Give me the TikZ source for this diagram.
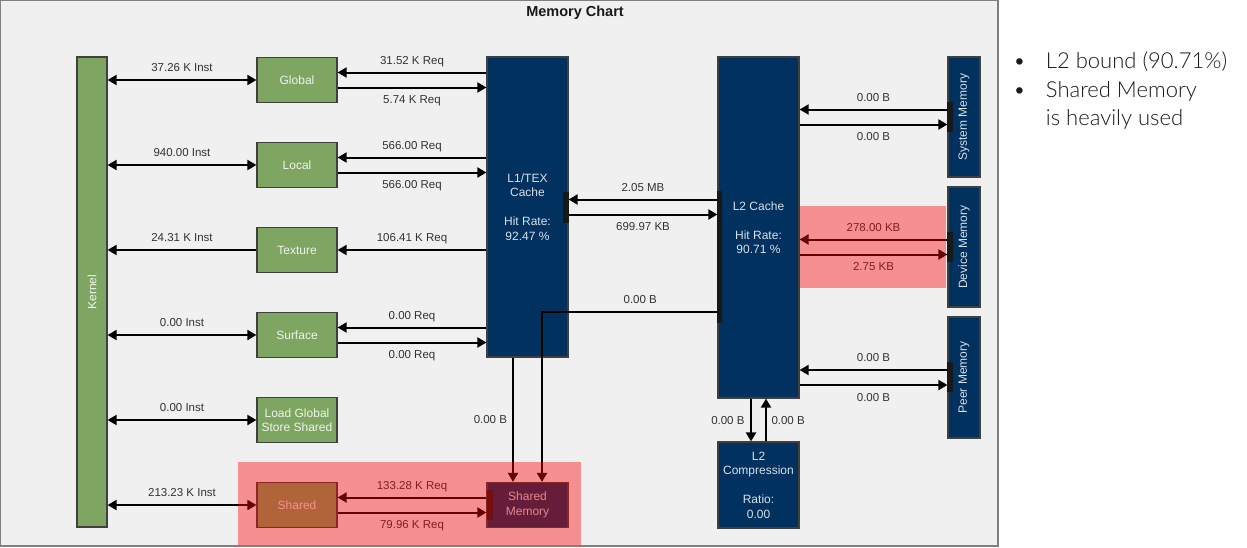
\documentclass[tikz,border=0pt]{standalone}
\usepackage{fontspec}
\setmainfont{Liberation Sans}
\newfontfamily\notefont{Lato}[UprightFont=* Light]
\usetikzlibrary{arrows.meta}
\definecolor{panelgray}{HTML}{F0F0F0}
\definecolor{unitgreen}{HTML}{7EA562}
\definecolor{cacheblue}{HTML}{00315F}
\definecolor{labelgray}{HTML}{333333}

\begin{document}
\begin{tikzpicture}[x=1pt,y=-1pt,
	unit/.style={draw=black!75,line width=1.2pt,inner sep=0pt,align=center,font=\fontsize{12}{14.5}\selectfont},
	green unit/.style={unit,fill=unitgreen,text=white!88!unitgreen,minimum width=80,minimum height=45},
	blue unit/.style={unit,fill=cacheblue,text=white!85!cacheblue},
	flow/.style={line width=2pt,-{Triangle[length=9pt,width=10pt]}},
	duplex/.style={line width=2pt,{Triangle[length=9pt,width=10pt]}-{Triangle[length=9pt,width=10pt]}},
	val/.style={text=labelgray,font=\fontsize{11.5}{13}\selectfont,inner sep=0pt,text height=8.2pt,text depth=0pt},
	valup/.style={val,midway,yshift=12.5pt},
	valdn/.style={val,midway,yshift=-12pt},
	port/.style={fill=black!90},
	hilite/.style={fill=red,fill opacity=0.4}]
\useasboundingbox (0,0) rectangle (1247,547);
\draw[black!50,line width=1.3pt,fill=panelgray] (0.65,0.65) rectangle (998,546);
\node[font=\bfseries\fontsize{14.5}{17}\selectfont,text=black!90,text height=10.5pt,text depth=0pt] (title) at (575,11.5) {Memory Chart};
%
\node[green unit,rotate=90,minimum width=470,minimum height=30] (kern) at (92,292) {Kernel};
\node[green unit] (glob) at (297,80) {Global};
\node[green unit] (loc) at (297,165) {Local};
\node[green unit] (tex) at (297,250) {Texture};
\node[green unit] (surf) at (297,335) {Surface};
\node[green unit] (lgss) at (297,420) {Load Global\\Store Shared};
\node[green unit] (shr) at (297,505) {Shared};
%
\node[blue unit,minimum width=81,minimum height=300] (l1) at (527.5,207) {L1/TEX\\Cache\\[14.5pt]Hit Rate:\\92.47 \%};
\node[blue unit,minimum width=81,minimum height=341] (l2) at (758.5,227.5) {L2 Cache\\[14.5pt]Hit Rate:\\90.71 \%};
\node[blue unit,minimum width=81,minimum height=86] (l2c) at (758.5,485) {L2\\Compression\\[14.5pt]Ratio:\\0.00};
\node[blue unit,minimum width=81,minimum height=45] (shm) at (527.5,505) {Shared\\Memory};
\node[blue unit,rotate=90,minimum width=120,minimum height=32] (sysm) at (964,117) {System Memory};
\node[blue unit,rotate=90,minimum width=120,minimum height=32] (devm) at (964,247) {Device Memory};
\node[blue unit,rotate=90,minimum width=121,minimum height=32] (peerm) at (964,377.5) {Peer Memory};
%
\draw[duplex] (kern.south |- glob.west) -- (glob.west) node[valup]{37.26 K Inst};
\draw[duplex] (kern.south |- loc.west) -- (loc.west) node[valup]{940.00 Inst};
\draw[flow] (tex.west) -- (kern.south |- tex.west) node[valup]{24.31 K Inst};
\draw[duplex] (kern.south |- surf.west) -- (surf.west) node[valup]{0.00 Inst};
\draw[duplex] (kern.south |- lgss.west) -- (lgss.west) node[valup]{0.00 Inst};
\draw[duplex] (kern.south |- shr.west) -- (shr.west) node[valup]{213.23 K Inst};
%
\draw[flow] ([yshift=7.5pt]l1.west |- glob.east) -- ([yshift=7.5pt]glob.east) node[valup]{31.52 K Req};
\draw[flow] ([yshift=-7.5pt]glob.east) -- ([yshift=-7.5pt]l1.west |- glob.east) node[valdn]{5.74 K Req};
\draw[flow] ([yshift=7.5pt]l1.west |- loc.east) -- ([yshift=7.5pt]loc.east) node[valup]{566.00 Req};
\draw[flow] ([yshift=-7.5pt]loc.east) -- ([yshift=-7.5pt]l1.west |- loc.east) node[valdn]{566.00 Req};
\draw[flow] (l1.west |- tex.east) -- (tex.east) node[valup]{106.41 K Req};
\draw[flow] ([yshift=7.5pt]l1.west |- surf.east) -- ([yshift=7.5pt]surf.east) node[valup]{0.00 Req};
\draw[flow] ([yshift=-7.5pt]surf.east) -- ([yshift=-7.5pt]l1.west |- surf.east) node[valdn]{0.00 Req};
\draw[flow] ([yshift=7.5pt]shm.west) -- ([yshift=7.5pt]shr.east) node[valup]{133.28 K Req};
\draw[flow] ([yshift=-7.5pt]shr.east) -- ([yshift=-7.5pt]shm.west) node[valdn]{79.96 K Req};
%
\draw[flow] ([xshift=-14.5pt]l1.south) -- ([xshift=-14.5pt]l1.south |- shm.north) node[val,midway,left=5pt]{0.00 B};
\draw[flow] ([yshift=-84.5pt]l2.west) -| ([xshift=14.5pt]shm.north) node[valup,pos=0.22]{0.00 B};
\draw[flow] ([yshift=7.5pt]l2.west |- l1.east) -- ([yshift=7.5pt]l1.east) node[valup]{2.05 MB};
\draw[flow] ([yshift=-7.5pt]l1.east) -- ([yshift=-7.5pt]l2.west |- l1.east) node[valdn]{699.97 KB};
\draw[flow] ([xshift=-7.5pt]l2.south) -- ([xshift=-7.5pt]l2c.north) node[val,midway,left=5.5pt]{0.00 B};
\draw[flow] ([xshift=7.5pt]l2c.north) -- ([xshift=7.5pt]l2.south) node[val,midway,right=4.5pt]{0.00 B};
%
\draw[flow] ([yshift=7.5pt]sysm.north) -- ([yshift=7.5pt]l2.east |- sysm.north) node[valup]{0.00 B};
\draw[flow] ([yshift=-7.5pt]l2.east |- sysm.north) -- ([yshift=-7.5pt]sysm.north) node[valdn]{0.00 B};
\draw[flow] ([yshift=7.5pt]devm.north) -- ([yshift=7.5pt]l2.east |- devm.north) node[valup]{278.00 KB};
\draw[flow] ([yshift=-7.5pt]l2.east |- devm.north) -- ([yshift=-7.5pt]devm.north) node[valdn]{2.75 KB};
\draw[flow] ([yshift=7.5pt]peerm.north) -- ([yshift=7.5pt]l2.east |- peerm.north) node[valup]{0.00 B};
\draw[flow] ([yshift=-7.5pt]l2.east |- peerm.north) -- ([yshift=-7.5pt]peerm.north) node[valdn]{0.00 B};
%
\fill[port] (563,192) rectangle (569,223);
\fill[port] (717,191) rectangle (722,323);
\fill[port] (947,102) rectangle (953,132);
\fill[port] (947,232) rectangle (953,262);
\fill[port] (947,362) rectangle (953,392);
\fill[port] (487,490) rectangle (493,520);
%
\fill[hilite] (238,462) rectangle (581,545.4);
\fill[hilite] (800,206) rectangle (946,288);
%
\node[anchor=base west,inner sep=0pt,font=\notefont\fontsize{22}{28.8}\selectfont,text=black!90] (note) at (1013,68.3)
	{\begin{tabular}[t]{@{}l@{\hspace{20pt}}l@{}}\textbullet & L2 bound (90.71\%)\\ \textbullet & Shared Memory\\ & is heavily used\end{tabular}};
\end{tikzpicture}
\end{document}
